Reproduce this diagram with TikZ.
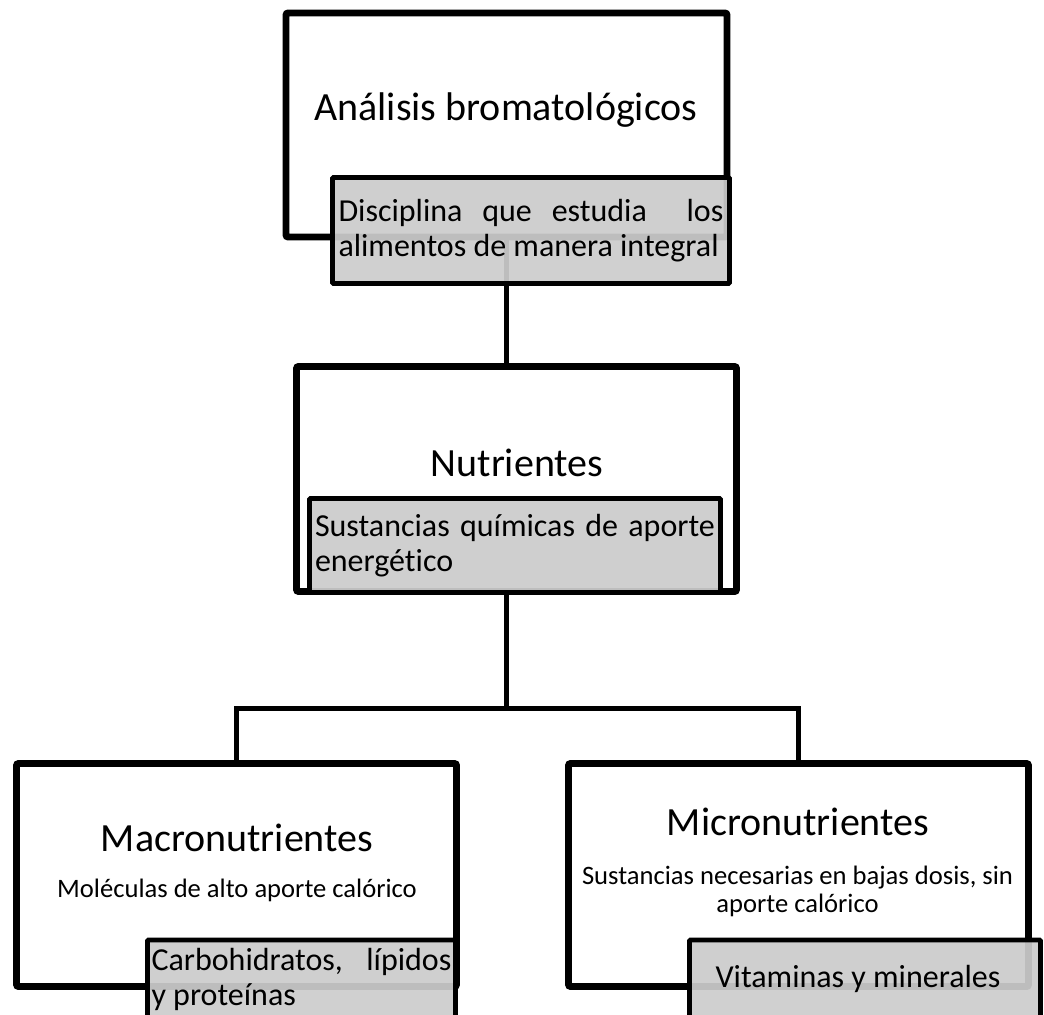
\documentclass[tikz,border=0pt]{standalone}
\usepackage{fontspec}
\setmainfont{Carlito}[Ligatures=NoCommon]
\usetikzlibrary{shadows}
\hyphenpenalty=10000
\exhyphenpenalty=10000
\tolerance=9999
\begin{document}
\begin{tikzpicture}[x=0.5pt, y=-0.5pt,
    outerbox/.style={draw, line width=3.4pt, fill=white, rounded corners=1pt, inner sep=0pt,
      drop shadow={opacity=0.18, shadow xshift=1.2pt, shadow yshift=-1.5pt}},
    notebox/.style={draw, line width=2.4pt, fill=black!20, fill opacity=0.93, text opacity=1,
      rounded corners=0.5pt, inner ysep=0pt, font=\fontsize{16}{17.5}\selectfont},
    titletext/.style={font=\fontsize{20}{24}\selectfont},
    desctext/.style={font=\fontsize{13.3}{14}\selectfont, align=center},
    link/.style={line width=2.5pt}]
    \useasboundingbox (0,0) rectangle (1044,1015);
    \node [outerbox, minimum width=220.5pt, minimum height=112pt] (Analisis) at (506.5,125) {};
    \node [titletext] (AnalisisTitle) at (506,110) {Análisis bromatológicos};
    \node [outerbox, minimum width=220pt, minimum height=112.5pt] (Nutrientes) at (516.5,479) {};
    \node [titletext] (NutrientesTitle) at (517,463) {Nutrientes};
    \node [outerbox, minimum width=220pt, minimum height=111.5pt] (Macro) at (236.5,875) {};
    \node [titletext] (MacroTitle) at (237,838) {Macronutrientes};
    \node [desctext] (MacroDesc) at (237,890) {Moléculas de alto aporte calórico};
    \node [outerbox, minimum width=230pt, minimum height=111.5pt] (Micro) at (798.5,875) {};
    \node [titletext] (MicroTitle) at (798,822) {Micronutrientes};
    \node [desctext] (MicroDesc) at (797.5,891) {Sustancias necesarias en bajas dosis, sin\\aporte calórico};

    \coordinate (Fork) at (506.5,708);
    \draw [link] (Analisis.south) -- (Analisis.south |- Nutrientes.north);
    \draw [link] (Fork |- Nutrientes.south) -- (Fork);
    \draw [link] (Macro.north) |- (Fork) -| (Micro.north);

    \node [notebox, align=justify, text width=192.5pt, inner xsep=3pt, minimum height=53pt] (AnalisisNote) at (531,230.5)
      {Disciplina que estudia\ \ los\linebreak alimentos de manera integral};
    \node [notebox, align=justify, text width=200pt, inner xsep=2.75pt, minimum height=47pt] (NutrientesNote) at (515,545.5)
      {Sustancias químicas de aporte\linebreak energético};
    \node [notebox, align=justify, text width=150pt, inner xsep=2pt, minimum height=39pt] (MacroNote) at (301.5,979)
      {Carbohidratos, lípidos\linebreak y proteínas};
    \node [notebox, minimum width=175.5pt, minimum height=39pt] (MicroNote) at (865,979)
      {\hspace*{-7pt}Vitaminas y minerales};
\end{tikzpicture}
\end{document}
